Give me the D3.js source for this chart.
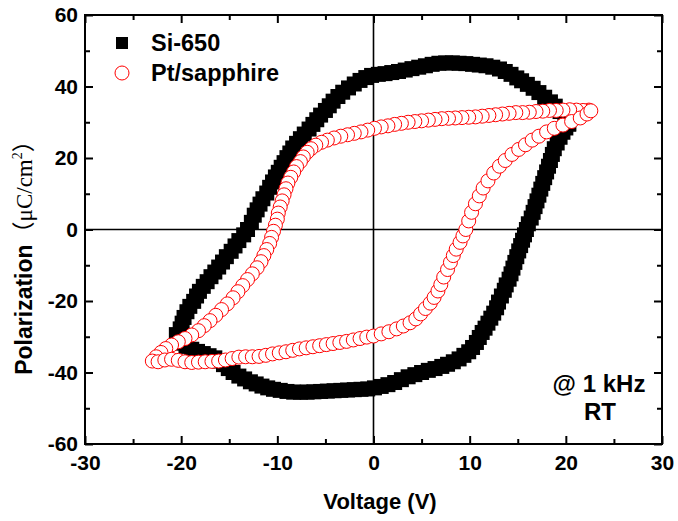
<!DOCTYPE html>
<html><head><meta charset="utf-8">
<script src="https://cdn.jsdelivr.net/npm/d3@7"></script>
<style>body{margin:0;background:#fff}</style>
</head><body>
<svg id="c" width="678" height="521"></svg>
<script>
// ---- data ----
const xMajorTicks = [-30,-20,-10,0,10,20,30];
const xMinorTicks = [-25,-15,-5,5,15,25];
const yMajorTicks = [-60,-40,-20,0,20,40,60];
const yMinorTicks = [-50,-30,-10,10,30,50];
const seriesNames = ["Si-650","Pt/sapphire"];

// Si-650, upper branch (from +V tip to -V tip)
const siUpV = [20.3,19.9,19.4,18.9,18.4,17.8,17.2,16.6,16.0,15.4,14.9,14.3,13.7,13.1,12.4,11.7,11.0,10.3,9.6,8.9,8.2,7.5,6.8,6.1,5.4,4.7,4.0,3.3,2.6,1.9,1.2,0.5,-0.2,-0.8,-1.4,-2.0,-2.6,-3.2,-3.7,-4.2,-4.6,-5.0,-5.5,-5.9,-6.3,-6.7,-7.2,-7.6,-8.0,-8.4,-8.7,-9.0,-9.3,-9.6,-9.9,-10.2,-10.5,-10.8,-11.1,-11.5,-11.8,-12.1,-12.4,-12.7,-13.1,-13.5,-14.0,-14.4,-14.8,-15.3,-15.7,-16.1,-16.5,-16.9,-17.3,-17.7,-18.1,-18.4,-18.7,-19.1,-19.4,-19.7,-19.9,-20.1,-20.5];
const siUpP = [29.5,31.3,33.0,34.5,35.7,37.0,38.3,39.5,40.6,41.6,42.4,43.4,44.2,44.9,45.4,45.8,46.0,46.2,46.4,46.5,46.6,46.6,46.5,46.2,45.8,45.4,45.0,44.6,44.2,43.9,43.6,43.4,43.1,42.5,41.7,40.7,39.6,38.4,37.2,35.9,34.6,33.3,32.0,30.7,29.4,28.1,26.7,25.4,24.1,22.8,21.4,20.1,18.7,17.4,16.0,14.7,13.3,11.8,10.2,8.6,7.1,5.5,4.0,2.0,0.0,-1.5,-3.1,-4.6,-6.1,-7.6,-9.1,-10.5,-11.9,-13.2,-14.6,-15.9,-17.3,-18.6,-20.1,-21.5,-23.0,-24.6,-26.2,-27.8,-29.4];
// Si-650, lower branch (from -V tip to +V tip)
const siLowV = [-20.4,-20.0,-19.5,-18.9,-18.3,-17.7,-17.1,-16.5,-16.0,-15.6,-15.1,-14.6,-14.0,-13.4,-12.8,-12.2,-11.6,-11.0,-10.4,-9.7,-9.0,-8.3,-7.6,-6.9,-6.2,-5.5,-4.8,-4.1,-3.4,-2.7,-2.0,-1.3,-0.6,0.1,0.8,1.5,2.2,2.9,3.6,4.3,5.0,5.7,6.4,7.1,7.7,8.3,8.9,9.4,9.9,10.3,10.7,11.0,11.3,11.6,11.9,12.2,12.5,12.8,13.0,13.3,13.6,13.8,14.1,14.3,14.5,14.7,14.9,15.1,15.3,15.5,15.7,15.9,16.1,16.4,16.6,16.8,17.0,17.2,17.4,17.6,17.8,18.0,18.2,18.4,18.6,18.8,19.1,19.4,19.7,20.0,20.3];
const siLowP = [-30.8,-31.8,-32.7,-33.5,-34.1,-34.7,-35.3,-35.9,-36.8,-37.8,-38.9,-40.0,-41.0,-41.8,-42.6,-43.2,-43.8,-44.3,-44.7,-45.0,-45.3,-45.5,-45.5,-45.5,-45.4,-45.3,-45.2,-45.1,-45.0,-44.9,-44.8,-44.7,-44.6,-44.3,-43.9,-43.4,-42.8,-42.0,-41.2,-40.6,-40.0,-39.4,-38.9,-38.3,-37.7,-37.0,-36.2,-35.2,-34.2,-33.0,-31.6,-30.2,-28.8,-27.6,-26.2,-24.8,-23.4,-21.9,-20.3,-18.6,-17.0,-15.5,-13.9,-12.4,-10.8,-9.2,-7.6,-6.0,-4.5,-3.0,-1.5,0.0,1.6,3.2,4.8,6.4,8.0,9.6,11.3,12.9,14.5,16.1,17.7,19.3,21.0,22.6,24.2,25.8,27.2,28.4,29.5];

// Pt/sapphire, upper branch
const ptUpV = [22.4,21.8,21.1,20.4,19.7,19.0,18.3,17.6,16.9,16.2,15.5,14.8,14.1,13.4,12.7,12.0,11.3,10.6,9.9,9.2,8.5,7.8,7.1,6.4,5.7,5.0,4.3,3.6,2.9,2.2,1.5,0.8,0.1,-0.6,-1.3,-2.0,-2.7,-3.4,-4.1,-4.8,-5.4,-6.0,-6.5,-6.9,-7.3,-7.6,-8.0,-8.3,-8.6,-8.9,-9.1,-9.3,-9.5,-9.7,-9.9,-10.0,-10.2,-10.4,-10.6,-10.8,-11.1,-11.4,-11.7,-12.1,-12.6,-13.1,-13.6,-14.1,-14.6,-15.2,-15.8,-16.4,-17.0,-17.6,-18.2,-18.9,-19.6,-20.3,-21.0,-21.6,-22.1,-22.6,-23.0];
const ptUpP = [33.4,33.3,33.4,33.5,33.4,33.3,33.3,33.1,33.0,32.8,32.7,32.7,32.5,32.3,32.1,31.9,31.7,31.5,31.4,31.3,31.2,31.1,31.0,30.8,30.6,30.4,30.2,30.0,29.7,29.4,29.0,28.7,28.3,27.8,27.3,26.9,26.5,26.1,25.6,25.0,24.4,23.6,22.6,21.6,20.3,19.0,17.6,16.1,14.6,13.0,11.4,9.7,8.0,6.3,4.6,2.9,1.2,-0.5,-2.2,-3.9,-5.6,-7.3,-9.0,-10.7,-12.4,-14.0,-15.7,-17.4,-19.1,-20.8,-22.4,-24.0,-25.5,-26.9,-28.3,-29.5,-30.5,-31.4,-32.3,-33.3,-34.4,-35.6,-36.8];
// Pt/sapphire, lower branch
const ptLowV = [-22.4,-21.7,-21.0,-20.3,-19.6,-18.9,-18.2,-17.5,-16.8,-16.1,-15.4,-14.7,-14.0,-13.3,-12.6,-11.9,-11.2,-10.5,-9.8,-9.1,-8.4,-7.7,-7.0,-6.3,-5.6,-4.9,-4.2,-3.5,-2.8,-2.1,-1.4,-0.7,0.0,0.8,1.6,2.4,3.1,3.8,4.4,4.9,5.4,5.9,6.3,6.7,7.0,7.3,7.7,8.0,8.3,8.6,9.0,9.3,9.6,9.9,10.2,10.6,11.0,11.4,11.9,12.5,13.1,13.7,14.4,15.1,15.8,16.5,17.2,18.0,18.8,19.7,20.6,21.5,22.2,22.6];
const ptLowP = [-37.0,-36.5,-36.3,-36.6,-37.0,-37.2,-37.1,-37.0,-36.9,-36.8,-36.5,-36.1,-35.7,-35.6,-35.6,-35.5,-35.2,-34.8,-34.5,-34.2,-33.8,-33.4,-33.1,-32.8,-32.5,-32.2,-31.9,-31.6,-31.3,-30.9,-30.5,-30.1,-29.8,-29.2,-28.6,-27.8,-27.0,-26.1,-25.0,-23.6,-22.1,-20.6,-19.0,-17.2,-15.4,-13.3,-11.2,-9.2,-7.3,-5.5,-3.6,-1.8,0.0,2.4,4.8,7.2,9.4,11.6,13.6,15.8,17.7,19.3,21.0,22.4,23.7,25.0,26.1,27.3,28.3,29.2,30.2,31.2,32.3,33.2];

// ---- drawing ----
const svg = d3.select('#c');
const L=85, R=662, T=15, B=444;
const x = d3.scaleLinear().domain([-30,30]).range([L,R]);
const y = d3.scaleLinear().domain([-60,60]).range([B,T]);
const font = "'Liberation Sans', Arial, sans-serif";

const pts = (vs, ps) => vs.map((v,i)=>[v, ps[i]]);
const siData = pts(siUpV, siUpP).concat(pts(siLowV, siLowP));
const ptData = pts(ptUpV, ptUpP).concat(pts(ptLowV, ptLowP));

// zero lines
svg.append('line').attr('x1',x(0)).attr('x2',x(0)).attr('y1',T).attr('y2',B)
  .attr('stroke','#000').attr('stroke-width',1.6);
svg.append('line').attr('x1',L).attr('x2',R).attr('y1',y(0)).attr('y2',y(0))
  .attr('stroke','#000').attr('stroke-width',1.6);

// Si-650 squares
const sq = 15;
svg.append('g').selectAll('rect').data(siData).join('rect')
  .attr('x', d=>x(d[0])-sq/2).attr('y', d=>y(d[1])-sq/2)
  .attr('width', sq).attr('height', sq).attr('fill','#000');

// Pt/sapphire circles
svg.append('g').selectAll('circle').data(ptData).join('circle')
  .attr('cx', d=>x(d[0])).attr('cy', d=>y(d[1])).attr('r', 7)
  .attr('fill','#fff').attr('stroke','#ff0000').attr('stroke-width',1);

// axes
function styleAxis(g){
  g.select('.domain').remove();
  g.selectAll('.tick line').attr('stroke','#000').attr('stroke-width',2);
  g.selectAll('.tick text').attr('font-family',font).attr('font-weight','bold')
    .attr('font-size',21).attr('fill','#000');
}
const fmt = d=> d<0 ? '-'+Math.abs(d) : ''+d;
svg.append('g').attr('transform',`translate(0,${B})`)
  .call(d3.axisBottom(x).tickValues(xMajorTicks).tickSize(-8).tickPadding(11).tickFormat(fmt)).call(styleAxis);
svg.append('g').attr('transform',`translate(0,${B})`)
  .call(d3.axisBottom(x).tickValues(xMinorTicks).tickSize(-5).tickFormat('')).call(styleAxis);
svg.append('g').attr('transform',`translate(0,${T})`)
  .call(d3.axisTop(x).tickValues(xMajorTicks).tickSize(-8).tickFormat('')).call(styleAxis);
svg.append('g').attr('transform',`translate(0,${T})`)
  .call(d3.axisTop(x).tickValues(xMinorTicks).tickSize(-5).tickFormat('')).call(styleAxis);
svg.append('g').attr('transform',`translate(${L},0)`)
  .call(d3.axisLeft(y).tickValues(yMajorTicks).tickSize(-8).tickPadding(7).tickFormat(fmt)).call(styleAxis);
svg.append('g').attr('transform',`translate(${L},0)`)
  .call(d3.axisLeft(y).tickValues(yMinorTicks).tickSize(-5).tickFormat('')).call(styleAxis);
svg.append('g').attr('transform',`translate(${R},0)`)
  .call(d3.axisRight(y).tickValues(yMajorTicks).tickSize(-8).tickFormat('')).call(styleAxis);
svg.append('g').attr('transform',`translate(${R},0)`)
  .call(d3.axisRight(y).tickValues(yMinorTicks).tickSize(-5).tickFormat('')).call(styleAxis);

// frame
svg.append('rect').attr('x',L).attr('y',T).attr('width',R-L).attr('height',B-T)
  .attr('fill','none').attr('stroke','#000').attr('stroke-width',2);

// axis titles
svg.append('text').attr('x',380).attr('y',509).attr('text-anchor','middle')
  .attr('font-family',font).attr('font-weight','bold').attr('font-size',22).text('Voltage (V)');
const yt = svg.append('text').attr('transform','translate(32,252) rotate(-90)')
  .attr('text-anchor','middle').attr('font-size',23);
yt.append('tspan').attr('font-family',font).attr('font-weight','bold').text('Polarization');
yt.append('tspan').attr('font-family',"'Noto Sans CJK SC', sans-serif").text('（');
yt.append('tspan').attr('font-family',"'Liberation Serif', 'Times New Roman', serif").text('μC/cm');
yt.append('tspan').attr('font-family',"'Liberation Serif', serif").attr('font-size',14).attr('dy',-10).text('2');
yt.append('tspan').attr('font-family',"'Noto Sans CJK SC', sans-serif").attr('dy',10).text('）');

// legend
svg.append('rect').attr('x',122-6).attr('y',43-6).attr('width',12).attr('height',12).attr('fill','#000');
svg.append('circle').attr('cx',122).attr('cy',73).attr('r',7).attr('fill','#fff').attr('stroke','#ff0000').attr('stroke-width',1);
svg.append('text').attr('x',151).attr('y',51).attr('font-family',font).attr('font-weight','bold').attr('font-size',23.5).text(seriesNames[0]);
svg.append('text').attr('x',151).attr('y',81).attr('font-family',font).attr('font-weight','bold').attr('font-size',23.5).text(seriesNames[1]);

// annotation
svg.append('text').attr('x',599).attr('y',392).attr('text-anchor','middle')
  .attr('font-family',font).attr('font-weight','bold').attr('font-size',24).text('@ 1 kHz');
svg.append('text').attr('x',600).attr('y',420).attr('text-anchor','middle')
  .attr('font-family',font).attr('font-weight','bold').attr('font-size',24).text('RT');
</script>
</body></html>
